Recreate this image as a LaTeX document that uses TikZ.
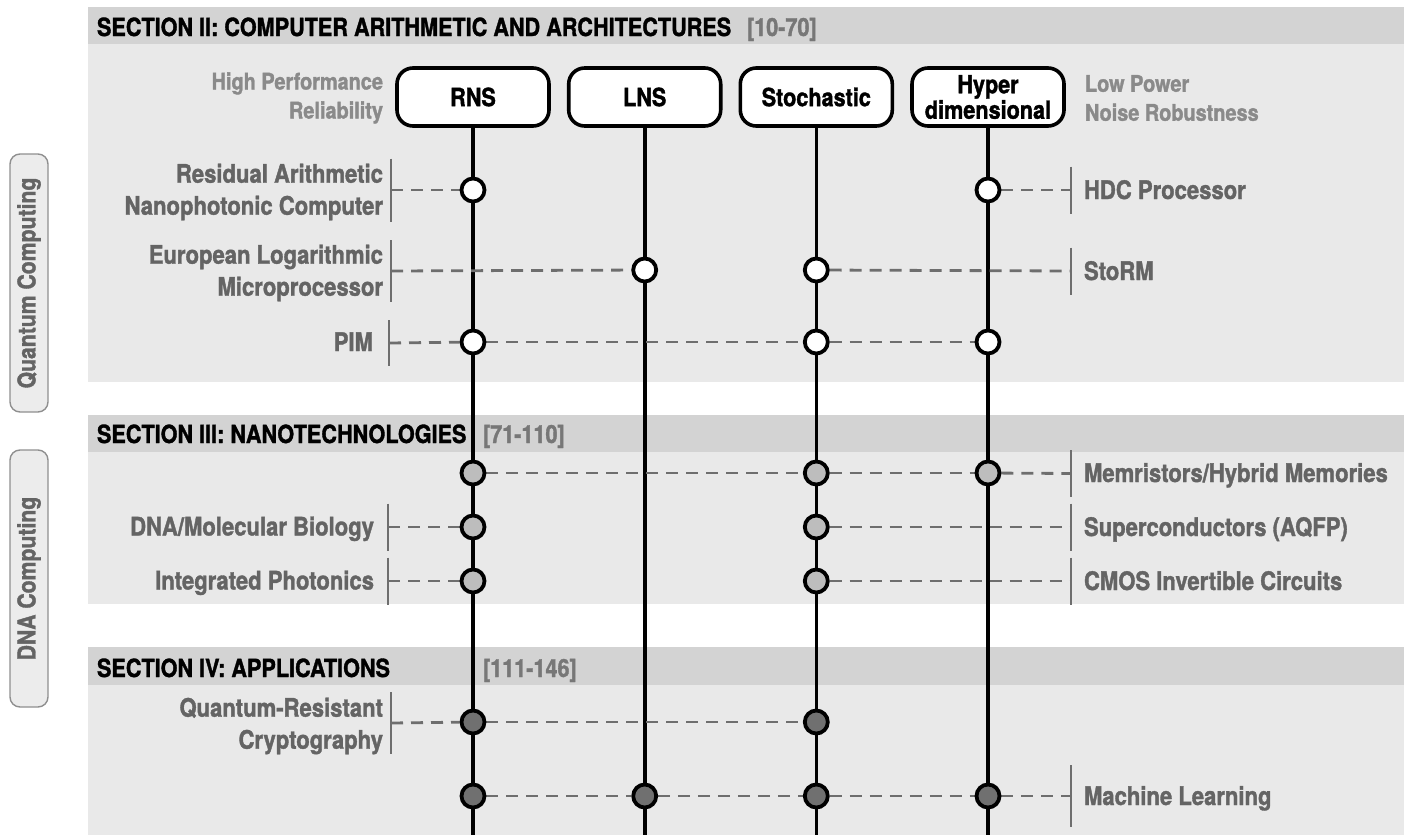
\documentclass[tikz,border=0pt]{standalone}
\usepackage{fontspec}
\setmainfont{TeX Gyre Heros}[FakeStretch=0.865, BoldFeatures={FakeBold=1.4}]
\usetikzlibrary{calc}
\definecolor{hdrgray}{HTML}{D3D3D3}
\definecolor{bodygray}{HTML}{E9E9E9}
\definecolor{txtgray}{HTML}{646464}
\definecolor{litegray}{HTML}{8A8A8A}
\definecolor{refgray}{HTML}{777777}
\definecolor{linkgray}{HTML}{6E6E6E}
\definecolor{nodegray}{HTML}{BDBDBD}
\definecolor{nodedark}{HTML}{707070}
\definecolor{sidefill}{HTML}{ECECEC}
\definecolor{sideline}{HTML}{8F8F8F}
\pgfdeclarelayer{bg}
\pgfsetlayers{bg,main}
\begin{document}
\begin{tikzpicture}[x=1pt,y=-1pt,
  every node/.style={inner sep=0pt, outer sep=0pt},
  hdr/.style={font=\fontsize{25}{32}\selectfont\bfseries, anchor=base west, text=black},
  ref/.style={font=\fontsize{25}{32}\selectfont\bfseries, anchor=base west, text=refgray},
  lbl/.style={font=\fontsize{25.5}{32}\selectfont\bfseries, text=txtgray},
  toplbl/.style={font=\fontsize{23}{29}\selectfont\bfseries, text=litegray},
  numbox/.style={draw=black, line width=3.6pt, rounded corners=16pt, fill=white,
    minimum width=152pt, minimum height=58pt, align=center,
    font=\fontsize{25}{25.5}\selectfont\bfseries},
  sidebox/.style={draw=sideline, line width=1.4pt, rounded corners=10pt, fill=sidefill,
    minimum height=38pt, rotate=90, text=txtgray,
    font=\fontsize{24.5}{25}\selectfont\bfseries},
  colline/.style={draw=black, line width=3.6pt},
  dot/.style={circle, draw=black, line width=3.8pt, minimum size=23pt, outer sep=1.9pt},
  wdot/.style={dot, fill=white},
  gdot/.style={dot, fill=nodegray},
  ddot/.style={dot, fill=nodedark},
  link/.style={draw=linkgray, line width=2.8pt, dash pattern=on 12pt off 8pt},
  tickline/.style={draw=linkgray, line width=2.2pt}
]
\useasboundingbox (0,0) rectangle (1404,835);

% section panels
\begin{pgfonlayer}{bg}
\fill[hdrgray] (88,7) rectangle (1404,44);
\fill[bodygray] (88,44) rectangle (1404,382);
\fill[hdrgray] (88,415) rectangle (1404,452);
\fill[bodygray] (88,452) rectangle (1404,604);
\fill[hdrgray] (88,647) rectangle (1404,685);
\fill[bodygray] (88,685) rectangle (1404,835);
\end{pgfonlayer}

% section titles
\node[hdr] (h2) at (97,36) {SECTION II: COMPUTER ARITHMETIC AND ARCHITECTURES};
\node[ref] (h2r) at (747,36) {[10-70]};
\node[hdr] (h3) at (97,443) {SECTION III: NANOTECHNOLOGIES};
\node[ref] (h3r) at (483,443) {[71-110]};
\node[hdr] (h4) at (97,677) {SECTION IV: APPLICATIONS};
\node[ref] (h4r) at (483,677) {[111-146]};

% side tags
\node[sidebox, minimum width=258pt] (qc) at (29,283) {Quantum Computing};
\node[sidebox, minimum width=257pt] (dna) at (29,578.5) {DNA Computing};

% number systems
\node[numbox] (rns) at (473,97) {RNS};
\node[numbox] (lns) at (644.7,97) {LNS};
\node[numbox] (sto) at (816.3,97) {Stochastic};
\node[numbox] (hdc) at (988,97) {Hyper\\dimensional};
\coordinate (bot) at (0,835);

\node[toplbl, anchor=east, align=right] (perf) at (383,98) {High Performance\\Reliability};
\node[toplbl, anchor=west, align=left] (power) at (1085,98) {Low Power\\Noise Robustness};

% section II rows
\node[wdot] (a1) at (473,190) {};
\node[wdot] (d1) at (988,190) {};
\node[wdot] (b2) at (644.7,270) {};
\node[wdot] (c2) at (816.3,270) {};
\node[wdot] (a3) at (473,342) {};
\node[wdot] (c3) at (816.3,342) {};
\node[wdot] (d3) at (988,342) {};

% section III rows
\node[gdot] (a4) at (473,473) {};
\node[gdot] (c4) at (816.3,473) {};
\node[gdot] (d4) at (988,473) {};
\node[gdot] (a5) at (473,527) {};
\node[gdot] (c5) at (816.3,527) {};
\node[gdot] (a6) at (473,581) {};
\node[gdot] (c6) at (816.3,581) {};

% section IV rows
\node[ddot] (a7) at (473,722) {};
\node[ddot] (c7) at (816.3,722) {};
\node[ddot] (a8) at (473,796) {};
\node[ddot] (b8) at (644.7,796) {};
\node[ddot] (c8) at (816.3,796) {};
\node[ddot] (d8) at (988,796) {};

% bracket anchors
\coordinate (tl1) at (391,190);
\coordinate (tl2) at (391,271);
\coordinate (tl3) at (389,343);
\coordinate (tl5) at (388,527);
\coordinate (tl6) at (388,581);
\coordinate (tl7) at (391,723);
\coordinate (tr1) at (1071,190);
\coordinate (tr2) at (1071,271);
\coordinate (tr4) at (1071,473.5);
\coordinate (tr5) at (1071,527);
\coordinate (tr6) at (1071,581);
\coordinate (tr8) at (1071,796);

% left labels
\node[lbl, anchor=east, align=right] (l1) at (383,192) {Residual Arithmetic\\Nanophotonic Computer};
\node[lbl, anchor=east, align=right] (l2) at (383,273) {European Logarithmic\\Microprocessor};
\node[lbl, anchor=base east] (l3) at (373,351) {PIM};
\node[lbl, anchor=base east] (l5) at (374,535.5) {DNA/Molecular Biology};
\node[lbl, anchor=base east] (l6) at (374,589.5) {Integrated Photonics};
\node[lbl, anchor=east, align=right] (l7) at (383,726) {Quantum-Resistant\\Cryptography};

% right labels
\node[lbl, anchor=base west] (r1) at (1084,199) {HDC Processor};
\node[lbl, anchor=base west] (r2) at (1084,280) {StoRM};
\node[lbl, anchor=base west] (r4) at (1084,482) {Memristors/Hybrid Memories};
\node[lbl, anchor=base west] (r5) at (1084,536) {Superconductors (AQFP)};
\node[lbl, anchor=base west] (r6) at (1084,590) {CMOS Invertible Circuits};
\node[lbl, anchor=base west] (r8) at (1084,805) {Machine Learning};

\begin{pgfonlayer}{bg}
  % columns
  \draw[colline] (rns.south) -- (rns.south |- bot);
  \draw[colline] (lns.south) -- (lns.south |- bot);
  \draw[colline] (sto.south) -- (sto.south |- bot);
  \draw[colline] (hdc.south) -- (hdc.south |- bot);

  % brackets
  \draw[tickline] ($(tl1)+(0,-31.5)$) -- ($(tl1)+(0,31.5)$);
  \draw[tickline] ($(tl2)+(0,-31)$) -- ($(tl2)+(0,31)$);
  \draw[tickline] ($(tl3)+(0,-23)$) -- ($(tl3)+(0,23)$);
  \draw[tickline] ($(tl5)+(0,-23.5)$) -- ($(tl5)+(0,23.5)$);
  \draw[tickline] ($(tl6)+(0,-23.5)$) -- ($(tl6)+(0,23.5)$);
  \draw[tickline] ($(tl7)+(0,-31)$) -- ($(tl7)+(0,31)$);
  \draw[tickline] ($(tr1)+(0,-23.5)$) -- ($(tr1)+(0,23.5)$);
  \draw[tickline] ($(tr2)+(0,-23.5)$) -- ($(tr2)+(0,23.5)$);
  \draw[tickline] ($(tr4)+(0,-23.5)$) -- ($(tr4)+(0,23.5)$);
  \draw[tickline] ($(tr5)+(0,-23.5)$) -- ($(tr5)+(0,23.5)$);
  \draw[tickline] ($(tr6)+(0,-23.5)$) -- ($(tr6)+(0,23.5)$);
  \draw[tickline] ($(tr8)+(0,-31)$) -- ($(tr8)+(0,31)$);

  % links
  \draw[link] (tl1) -- (a1);
  \draw[link] (d1) -- (tr1);
  \draw[link] (tl2) -- (b2);
  \draw[link] (c2) -- (tr2);
  \draw[link] (tl3) -- (a3);
  \draw[link] (a3) -- (c3);
  \draw[link] (c3) -- (d3);
  \draw[link] (a4) -- (c4);
  \draw[link] (c4) -- (d4);
  \draw[link] (d4) -- (tr4);
  \draw[link] (tl5) -- (a5);
  \draw[link] (c5) -- (tr5);
  \draw[link] (tl6) -- (a6);
  \draw[link] (c6) -- (tr6);
  \draw[link] (tl7) -- (a7);
  \draw[link] (a7) -- (c7);
  \draw[link] (a8) -- (b8);
  \draw[link] (b8) -- (c8);
  \draw[link] (c8) -- (d8);
  \draw[link] (d8) -- (tr8);
\end{pgfonlayer}
\end{tikzpicture}
\end{document}
